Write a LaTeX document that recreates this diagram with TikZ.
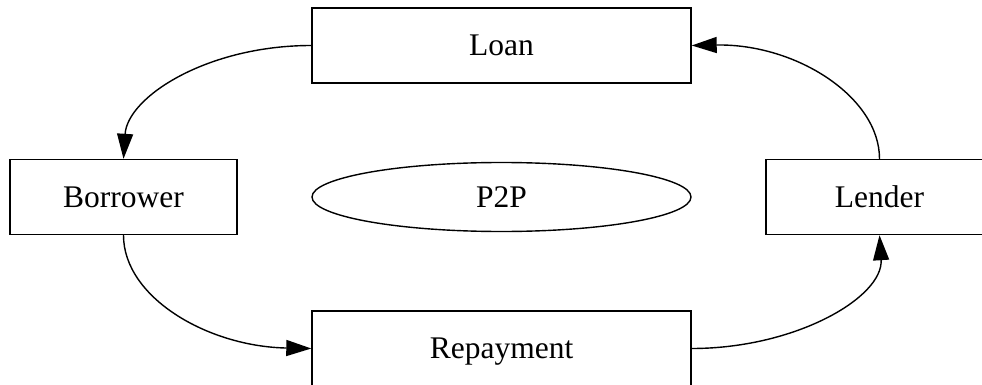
\documentclass[tikz,border=0pt]{standalone}
\usepackage{fontspec}
\setmainfont{Liberation Serif}
\usetikzlibrary{arrows.meta,shapes.geometric}
\begin{document}
\begin{tikzpicture}[x=1pt,y=-1pt,line width=1.4pt,
  every node/.style={font=\fontsize{31.5}{38}\selectfont,text height=22pt,text depth=2pt},
  box/.style={draw,rectangle,inner sep=0pt,minimum height=75pt},
  flow/.style={-{Triangle[length=25pt,width=16pt]}}]
\useasboundingbox (0,0) rectangle (982,385);
\node[box,minimum width=379pt] (loan) at (501.5,45.5) {Loan};
\node[box,minimum width=227pt] (borrower) at (123.5,197) {Borrower};
\node[draw,ellipse,inner sep=0pt,minimum width=379pt,minimum height=69pt] (p2p) at (501.5,197) {P2P};
\node[box,minimum width=227pt] (lender) at (879.5,197) {Lender};
\node[box,minimum width=379pt] (repay) at (501.5,348.5) {Repayment};
\draw[flow] (loan.west) .. controls +(-104,0) and +(4,-62) .. (borrower.north);
\draw[flow] (borrower.south) .. controls +(0,62) and +(-104,-2) .. (repay.west);
\draw[flow] (repay.east) .. controls +(104,0) and +(4,62) .. (lender.south);
\draw[flow] (lender.north) .. controls +(0,-62) and +(104,-2) .. (loan.east);
\end{tikzpicture}
\end{document}
